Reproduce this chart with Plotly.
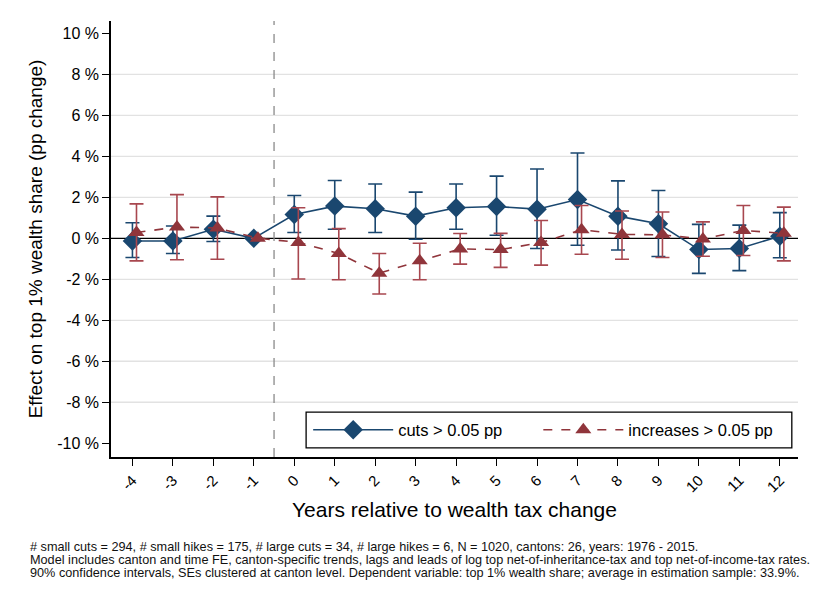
import numpy as np
import plotly.graph_objects as go

# =========================
# DATOS
# =========================
years = list(range(-4, 13))

cuts = [-0.13, -0.13, 0.44, 0.0, 1.16, 1.57, 1.44, 1.08, 1.49, 1.55, 1.42, 1.89, 1.08, 0.71, -0.55, -0.50, 0.10]
cuts_hi = [0.76, 0.60, 1.08, 0.0, 2.09, 2.82, 2.65, 2.25, 2.65, 3.03, 3.38, 4.16, 2.80, 2.33, 0.68, 0.64, 1.25]
cuts_lo = [-0.94, -0.74, -0.16, 0.0, 0.28, 0.44, 0.28, -0.05, 0.44, 0.15, -0.50, -0.34, -0.57, -0.89, -1.71, -1.58, -0.95]

incr = [0.28, 0.55, 0.50, 0.0, -0.20, -0.74, -1.70, -1.10, -0.52, -0.55, -0.21, 0.42, 0.19, 0.17, -0.03, 0.38, 0.24]
incr_hi = [1.68, 2.13, 2.02, 0.0, 1.49, 0.47, -0.74, -0.24, 0.23, 0.24, 0.87, 1.60, 1.33, 1.28, 0.80, 1.60, 1.52]
incr_lo = [-1.10, -1.05, -1.02, 0.0, -1.99, -2.02, -2.72, -2.02, -1.26, -1.42, -1.31, -0.78, -1.02, -0.94, -0.88, -0.84, -1.10]

y_ticks = [-10, -8, -6, -4, -2, 0, 2, 4, 6, 8, 10]
y_ticklabels = [f"{v} %" for v in y_ticks]
grid_vals = [-8, -6, -4, -2, 2, 4, 6, 8]

footnote_lines = [
    "# small cuts = 294, # small hikes = 175, # large cuts = 34, # large hikes = 6, N = 1020, cantons: 26, years: 1976 - 2015.",
    "Model includes canton and time FE, canton-specific trends, lags and leads of log top net-of-inheritance-tax and top net-of-income-tax rates.",
    "90% confidence intervals, SEs clustered at canton level. Dependent variable: top 1% wealth share; average in estimation sample: 33.9%.",
]

blue = "#1a476f"
red = "#90353b"
font_main = "Liberation Sans, Arial, sans-serif"

x = np.array(years, dtype=float)
cuts = np.array(cuts)
incr = np.array(incr)

fig = go.Figure()

# lineas de referencia
for g in grid_vals:
    fig.add_shape(type="line", xref="paper", x0=0, x1=1, y0=g, y1=g,
                  line=dict(color="#e2e2e2", width=1.3), layer="below")
fig.add_shape(type="line", xref="paper", x0=0, x1=1, y0=0, y1=0,
              line=dict(color="black", width=1.3), layer="below")
fig.add_shape(type="line", yref="paper", x0=-0.5, x1=-0.5, y0=0, y1=1,
              line=dict(color="#8a8a8a", width=1.3, dash="dash"), layer="below")

# recortes
fig.add_trace(go.Scatter(
    x=x, y=cuts,
    mode="lines+markers",
    name="cuts > 0.05 pp",
    legend="legend",
    line=dict(color=blue, width=1.6),
    marker=dict(symbol="diamond", size=15, color=blue),
    error_y=dict(type="data", symmetric=False,
                 array=np.array(cuts_hi) - cuts,
                 arrayminus=cuts - np.array(cuts_lo),
                 color=blue, thickness=1.6, width=7),
))

# aumentos
fig.add_trace(go.Scatter(
    x=x + 0.1, y=incr,
    mode="lines+markers",
    name="increases > 0.05 pp",
    legend="legend2",
    line=dict(color=red, width=1.6, dash="dash"),
    marker=dict(symbol="triangle-up", size=14, color=red),
    error_y=dict(type="data", symmetric=False,
                 array=np.array(incr_hi) - incr,
                 arrayminus=incr - np.array(incr_lo),
                 color="#a8474f", thickness=1.6, width=7),
))

# caja de la leyenda (las dos leyendas van sin borde)
fig.add_shape(type="rect", xref="paper", yref="paper",
              x0=0.284, x1=0.991, y0=0.021, y1=0.103,
              line=dict(color="black", width=1.3), fillcolor="white", layer="above")

# nota al pie, una linea por anotacion
for i, line in enumerate(footnote_lines):
    fig.add_annotation(
        text=line, xref="paper", yref="paper",
        x=-0.121, y=-0.206 - i * 0.0305, xanchor="left", yanchor="middle",
        align="left", showarrow=False,
        font=dict(family=font_main, size=12.7, color="#111"),
    )

leg_style = dict(
    orientation="h", yanchor="middle", xanchor="left", y=0.062,
    bgcolor="rgba(0,0,0,0)", borderwidth=0,
    font=dict(size=16.5, family=font_main), itemwidth=80,
)

# margenes compensan los 8 px del body de la pagina
fig.update_layout(
    width=825, height=600,
    margin=dict(l=103, r=35, t=13, b=151),
    plot_bgcolor="white", paper_bgcolor="white",
    font=dict(family=font_main, color="black"),
    showlegend=True,
    legend=dict(x=0.287, **leg_style),
    legend2=dict(x=0.622, **leg_style),
    xaxis=dict(
        range=[-4.53, 12.45], tickmode="array", tickvals=years,
        ticktext=[str(v) for v in years], tickangle=-45,
        tickfont=dict(size=15), showgrid=False, zeroline=False,
        showline=True, linecolor="black", linewidth=1.5,
        ticks="outside", ticklen=7, tickcolor="black", automargin=False,
        title=dict(text="Years relative to wealth tax change", font=dict(size=21), standoff=8),
    ),
    yaxis=dict(
        range=[-10.67, 10.6], tickmode="array", tickvals=y_ticks,
        ticktext=y_ticklabels, tickfont=dict(size=16),
        showgrid=False, zeroline=False,
        showline=True, linecolor="black", linewidth=1.5,
        ticks="outside", ticklen=7, tickcolor="black", automargin=False,
        title=dict(text="Effect on top 1% wealth share (pp change)", font=dict(size=19), standoff=10),
    ),
)

fig.write_html("out.html")
